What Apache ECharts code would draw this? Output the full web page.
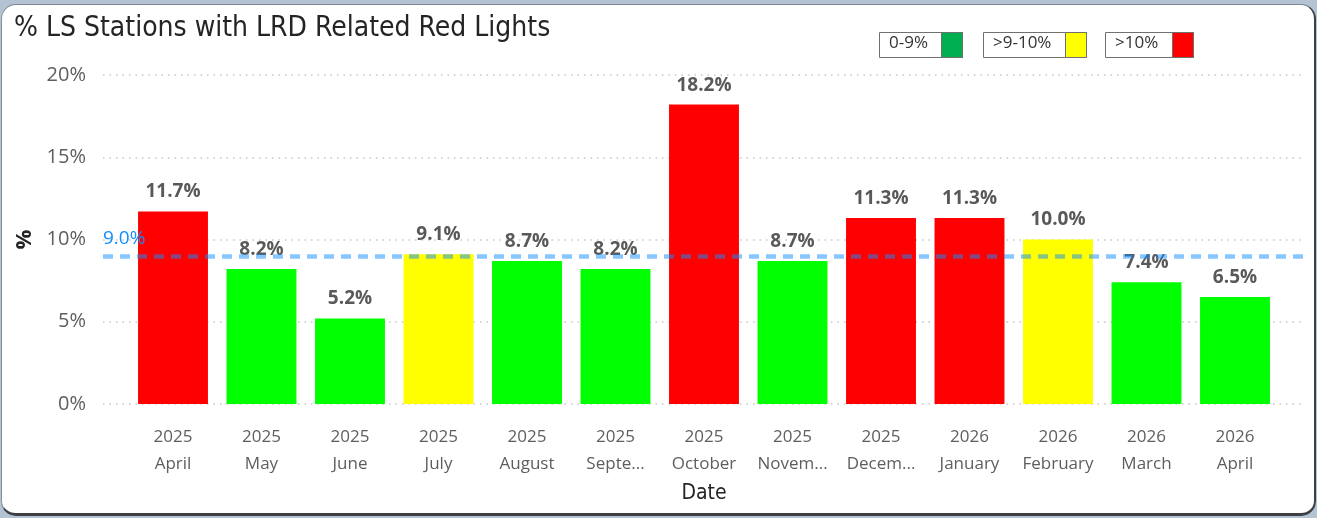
<!DOCTYPE html>
<html>
<head>
<meta charset="utf-8">
<script src="https://cdn.jsdelivr.net/npm/echarts@6/dist/echarts.min.js"></script>
<style>
  html, body { margin: 0; padding: 0; width: 1317px; height: 518px; overflow: hidden; background: #b3c3d4; }
  #card {
    position: absolute; left: 1px; top: 4px; width: 1312px; height: 508px;
    background: #ffffff; border-radius: 15px;
    border-top: 1px solid #7d8590; border-left: 1px solid #8a9099;
    border-right: 2px solid #3c3f44; border-bottom: 3px solid #3c3f44;
  }
  #chart { position: absolute; left: 0; top: 0; width: 1317px; height: 518px; }
</style>
</head>
<body>
<div id="card"></div>
<div id="chart"></div>
<script>
// Monthly share of LS stations with LRD related red lights
const years = ['2025', '2025', '2025', '2025', '2025', '2025', '2025', '2025', '2025', '2026', '2026', '2026', '2026'];
const months = ['April', 'May', 'June', 'July', 'August', 'Septe...', 'October', 'Novem...', 'Decem...', 'January', 'February', 'March', 'April'];
const percentValues = [11.7, 8.2, 5.2, 9.1, 8.7, 8.2, 18.2, 8.7, 11.3, 11.3, 10.0, 7.4, 6.5];
const targetValue = 9.0;
const yTicks = [0, 5, 10, 15, 20];

// Threshold bands: label, upper bound, bar colour, legend swatch colour
const bandLabels = ['0-9%', '>9-10%', '>10%'];
const bandUpper = [9, 10, Infinity];
const barColors = ['#00ff00', '#ffff00', '#ff0000'];
const swatchColors = ['#00b050', '#ffff00', '#ff0000'];

const FONT = '"Open Sans", "Noto Sans", sans-serif';
const HEAD_FONT = '"DejaVu Sans Condensed", "Roboto", sans-serif';

function bandIndex(v) {
  for (let i = 0; i < bandUpper.length; i++) if (v <= bandUpper[i]) return i;
  return bandUpper.length - 1;
}

const categories = years.map((y, i) => y + '\n' + months[i]);

// Legend boxes: text cell followed by coloured swatch
const legendBoxes = [
  { x: 879, w: 83, sw: 21 },
  { x: 983, w: 103, sw: 21 },
  { x: 1105, w: 88, sw: 21 }
];
const legendGraphics = [];
bandLabels.forEach((lab, i) => {
  const b = legendBoxes[i];
  legendGraphics.push({
    type: 'rect', left: b.x, top: 32,
    shape: { width: b.w, height: 25 },
    style: { fill: '#fff', stroke: '#707070', lineWidth: 1 }
  });
  legendGraphics.push({
    type: 'rect', left: b.x + b.w - b.sw, top: 32,
    shape: { width: b.sw, height: 25 },
    style: { fill: swatchColors[i], stroke: '#707070', lineWidth: 1 }
  });
  legendGraphics.push({
    type: 'text', left: b.x + 10, top: 35,
    style: { text: lab, font: '17px ' + FONT, fill: '#333' }
  });
});

const chart = echarts.init(document.getElementById('chart'), null, { renderer: 'canvas' });
chart.setOption({
  animation: false,
  backgroundColor: 'transparent',
  title: {
    text: '% LS Stations with LRD Related Red Lights',
    left: 9, top: 10,
    textStyle: { fontFamily: HEAD_FONT, fontWeight: 'normal', fontSize: 28, color: '#252423' }
  },
  graphic: legendGraphics,
  grid: [
    // full-width plot area: gridlines and target line
    { left: 103, right: 12, top: 75, bottom: 114 },
    // inset plot area holding the bars
    { left: 128.75, right: 37.75, top: 75, bottom: 114 }
  ],
  xAxis: [
    { type: 'value', gridIndex: 0, min: 0, max: 1, show: false },
    {
      type: 'category', gridIndex: 1, data: categories,
      axisLine: { show: false }, axisTick: { show: false },
      axisLabel: { interval: 0, margin: 20, color: '#605e5c', fontFamily: FONT, fontSize: 17, lineHeight: 27 },
      name: 'Date', nameLocation: 'middle', nameGap: 76,
      nameTextStyle: { fontFamily: HEAD_FONT, fontSize: 21, color: '#252423' }
    }
  ],
  yAxis: [
    {
      type: 'value', gridIndex: 0, min: 0, max: 20, interval: 5,
      axisLine: { show: false }, axisTick: { show: false },
      axisLabel: { margin: 17, color: '#605e5c', fontFamily: FONT, fontSize: 20, formatter: v => v + '%' },
      splitLine: { lineStyle: { color: '#c8c8c8', type: [1.5, 5], width: 1.5 } },
      name: '%', nameLocation: 'middle', nameGap: 66, nameRotate: 90,
      nameTextStyle: { fontFamily: FONT, fontSize: 22, fontWeight: 'bold', color: '#252423' }
    },
    { type: 'value', gridIndex: 1, min: 0, max: 20, interval: 5, show: false, splitLine: { show: false } }
  ],
  series: [
    {
      type: 'bar', xAxisIndex: 1, yAxisIndex: 1, barCategoryGap: '21%', z: 2,
      data: percentValues.map(v => ({ value: v, itemStyle: { color: barColors[bandIndex(v)] } })),
      label: {
        show: true, position: 'top', distance: 10,
        formatter: p => p.value.toFixed(1) + '%',
        fontFamily: FONT, fontWeight: 'bold', fontSize: 19, color: '#595959'
      }
    },
    {
      type: 'line', xAxisIndex: 0, yAxisIndex: 0, z: 5,
      data: [[0, targetValue], [1, targetValue]],
      symbol: 'none', lineStyle: { opacity: 0 }, silent: true,
      markLine: {
        silent: true, symbol: 'none', animation: false,
        data: [{ yAxis: targetValue }],
        lineStyle: { color: 'rgba(17,141,255,0.5)', type: [10, 7], width: 4.5 },
        label: {
          show: true, position: 'insideStartTop', distance: [0, 8],
          formatter: p => p.value.toFixed(1) + '%',
          fontFamily: FONT, fontSize: 19, color: '#118dff'
        }
      }
    }
  ]
});
</script>
</body>
</html>
